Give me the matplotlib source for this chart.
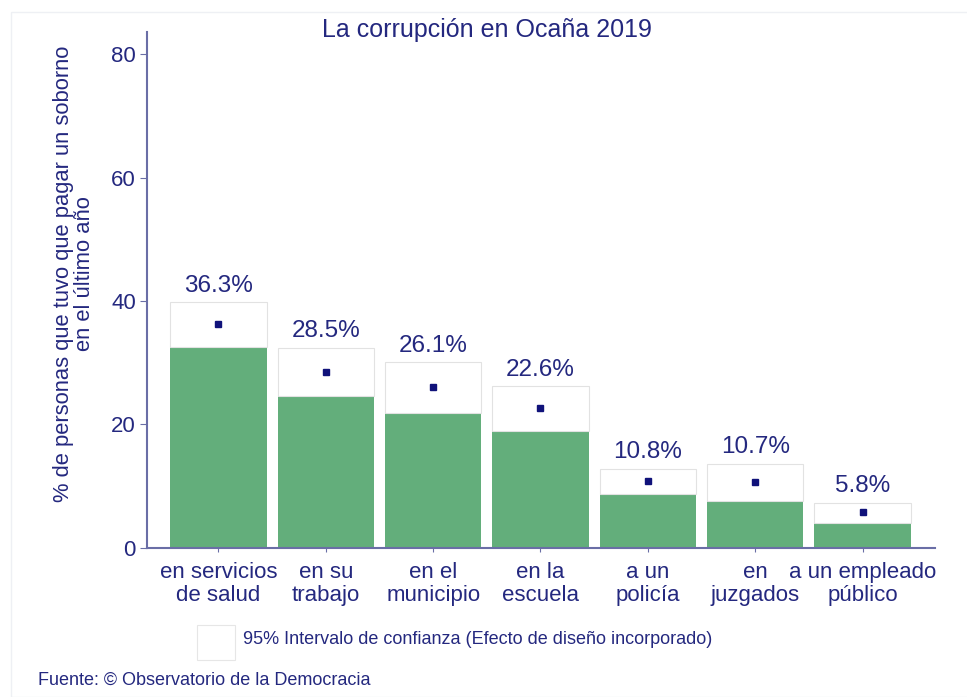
import numpy as np
import matplotlib.pyplot as plt
from matplotlib.patches import Rectangle

plt.rcParams['font.family'] = ['Liberation Sans', 'DejaVu Sans']

# datos
cat_linea1 = ["en servicios", "en su", "en el", "en la", "a un", "en", "a un empleado"]
cat_linea2 = ["de salud", "trabajo", "municipio", "escuela", "policía", "juzgados", "público"]
estimado = [36.3, 28.5, 26.1, 22.6, 10.8, 10.7, 5.8]
ic_inf = [32.5, 24.6, 21.9, 18.9, 8.7, 7.6, 4.1]
ic_sup = [39.8, 32.4, 30.1, 26.2, 12.8, 13.6, 7.3]
yticks = [0, 20, 40, 60, 80]

azul = '#24287f'
eje = '#6a6ea6'
verde = '#63ae7b'

fig = plt.figure(figsize=(9.67, 6.97), dpi=100)
ax = fig.add_axes([0.152, 0.214, 0.815, 0.740])

x = np.arange(len(cat_linea1))
inf = np.array(ic_inf)
sup = np.array(ic_sup)
ax.bar(x, inf, width=0.9, color=verde, zorder=2)
ax.bar(x, sup - inf, bottom=inf, width=0.9, color='white', edgecolor='#e2e2e2', linewidth=0.8, zorder=2)
ax.plot(x, estimado, 's', color='#10127a', markersize=5, zorder=3)
for xi, s, e in zip(x, sup, estimado):
    ax.text(xi, s + 0.9, f"{e:.1f}%", ha='center', va='bottom', fontsize=17.5, color=azul)

ax.set_xlim(-0.666, 6.676)
ax.set_ylim(0, 83.6)
ax.set_xticks(x)
ax.set_xticklabels([])
# etiquetas de categoria en dos lineas
for xi, l1, l2 in zip(x, cat_linea1, cat_linea2):
    ax.annotate(l1, xy=(xi, 0), xycoords=('data', 'axes fraction'), xytext=(0, -18),
                textcoords='offset points', ha='center', va='center', fontsize=16, color=azul)
    ax.annotate(l2, xy=(xi, 0), xycoords=('data', 'axes fraction'), xytext=(0, -34),
                textcoords='offset points', ha='center', va='center', fontsize=16, color=azul)
ax.set_yticks(yticks)
ax.set_yticklabels([str(v) for v in yticks], fontsize=16, color=azul)
ax.tick_params(axis='x', length=3, color=eje)
ax.tick_params(axis='y', length=5, color=eje, pad=3)
for sp in ['top', 'right']:
    ax.spines[sp].set_visible(False)
for sp in ['left', 'bottom']:
    ax.spines[sp].set_color(eje)
    ax.spines[sp].set_linewidth(1.5)

fig.text(74 / 967, 1 - 274 / 697, "% de personas que tuvo que pagar un soborno\nen el último año",
         rotation=90, ha='center', va='center', fontsize=15.8, color=azul, linespacing=1.0)

fig.text(0.504, 1 - 30 / 697, "La corrupción en Ocaña 2019", ha='center', va='center', fontsize=18, color=azul)

# leyenda
fig.patches.append(Rectangle((197 / 967, 1 - 660 / 697), 38 / 967, 35 / 697,
                             transform=fig.transFigure, facecolor='white', edgecolor='#e6e6e6', lw=0.8))
fig.text(243 / 967, 1 - 640 / 697, "95% Intervalo de confianza (Efecto de diseño incorporado)",
         ha='left', va='center', fontsize=13, color=azul)
fig.text(38 / 967, 1 - 680 / 697, "Fuente: © Observatorio de la Democracia",
         ha='left', va='center', fontsize=13, color=azul)

# marco claro
fig.patches.append(Rectangle((11 / 967, 0), 1.0, 1 - 12 / 697, transform=fig.transFigure,
                             facecolor='none', edgecolor='#eef0f4', lw=1.0))

fig.savefig('out.png', dpi=100)
